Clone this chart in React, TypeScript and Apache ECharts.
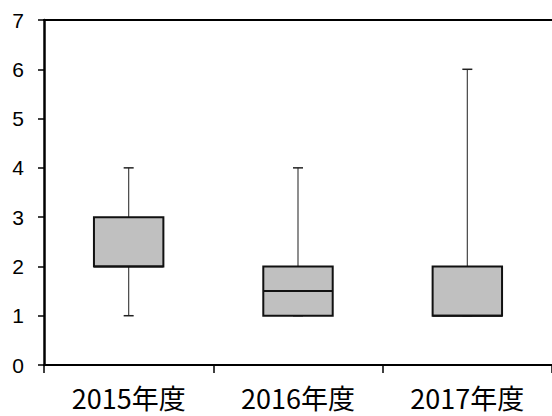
import React, { useEffect, useRef } from "react";
import * as echarts from "echarts";

const categories = ["2015年度", "2016年度", "2017年度"];
const minValues = [1, 1, 1];
const q1Values = [2, 1, 1];
const medianValues = [2, 1.5, 1];
const q3Values = [3, 2, 2];
const maxValues = [4, 4, 6];
const yTicks = [0, 1, 2, 3, 4, 5, 6, 7];

export default function App() {
  const ref = useRef<HTMLDivElement>(null);
  useEffect(() => {
    document.body.style.margin = "0";
    const chart = echarts.init(ref.current!, null, { renderer: "svg" });
    const data = categories.map((_, i) => [
      i,
      minValues[i],
      q1Values[i],
      medianValues[i],
      q3Values[i],
      maxValues[i],
    ]);
    chart.setOption({
      animation: false,
      grid: {
        left: 44,
        right: -2,
        top: 20,
        bottom: 51,
        show: false,
      },
      xAxis: [
        {
          type: "category",
          data: categories,
          axisLine: { lineStyle: { color: "#000", width: 2 } },
          axisTick: { show: true, length: 8, lineStyle: { color: "#000", width: 1.5 } },
          axisLabel: {
            color: "#000",
            fontSize: 27,
            fontFamily: "Noto Sans CJK JP",
            margin: 19,
          },
          splitLine: { show: false },
        },
        {
          type: "category",
          data: categories,
          position: "top",
          axisLine: { show: true, lineStyle: { color: "#000", width: 2 } },
          axisTick: { show: false },
          axisLabel: { show: false },
          splitLine: { show: false },
        },
      ],
      yAxis: {
        type: "value",
        min: yTicks[0],
        max: yTicks[yTicks.length - 1],
        interval: 1,
        axisLine: { show: true, lineStyle: { color: "#000", width: 2.5 } },
        axisTick: { show: true, length: 6, lineStyle: { color: "#000", width: 1.5 } },
        axisLabel: {
          color: "#000",
          fontSize: 21,
          fontFamily: "Liberation Sans",
          margin: 20,
        },
        splitLine: { show: false },
      },
      series: [
        {
          type: "custom",
          data,
          xAxisIndex: 0,
          encode: { x: 0, y: [1, 2, 3, 4, 5] },
          renderItem: (params: any, api: any) => {
            const x = api.value(0);
            const pMin = api.coord([x, api.value(1)]);
            const pQ1 = api.coord([x, api.value(2)]);
            const pMed = api.coord([x, api.value(3)]);
            const pQ3 = api.coord([x, api.value(4)]);
            const pMax = api.coord([x, api.value(5)]);
            const bw = api.size([1, 0])[0] * 0.41;
            const cap = 10;
            const cx = pMed[0];
            const children: any[] = [
              {
                type: "line",
                shape: { x1: cx, y1: pQ3[1], x2: cx, y2: pMax[1] },
                style: { stroke: "#444", lineWidth: 1.2 },
              },
              {
                type: "line",
                shape: { x1: cx, y1: pQ1[1], x2: cx, y2: pMin[1] },
                style: { stroke: "#444", lineWidth: 1.2 },
              },
              {
                type: "line",
                shape: { x1: cx - cap / 2, y1: pMax[1], x2: cx + cap / 2, y2: pMax[1] },
                style: { stroke: "#222", lineWidth: 1.5 },
              },
              {
                type: "line",
                shape: { x1: cx - cap / 2, y1: pMin[1], x2: cx + cap / 2, y2: pMin[1] },
                style: { stroke: "#222", lineWidth: 1.5 },
              },
              {
                type: "rect",
                shape: { x: cx - bw / 2, y: pQ3[1], width: bw, height: pQ1[1] - pQ3[1] },
                style: { fill: "#c0c0c0", stroke: "#111", lineWidth: 2 },
              },
              {
                type: "line",
                shape: { x1: cx - bw / 2, y1: pMed[1], x2: cx + bw / 2, y2: pMed[1] },
                style: { stroke: "#111", lineWidth: 2 },
              },
            ];
            return { type: "group", children };
          },
        },
      ],
    });
    return () => chart.dispose();
  }, []);
  return <div ref={ref} style={{ width: 552, height: 416 }} />;
}
